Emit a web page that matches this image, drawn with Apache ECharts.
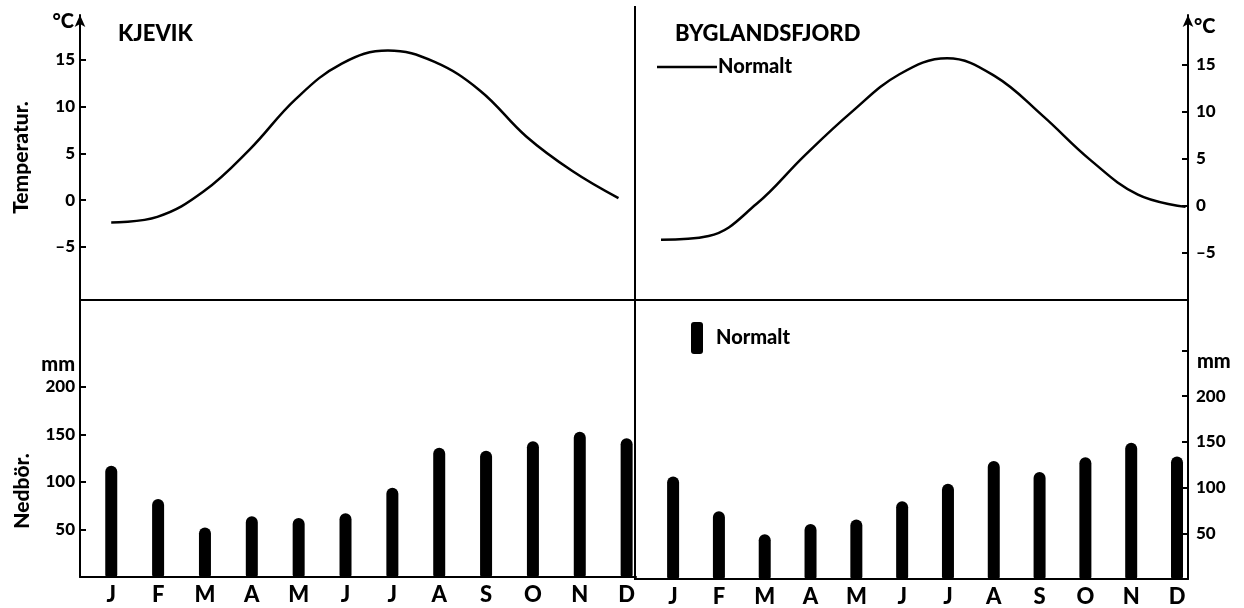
<!DOCTYPE html>
<html><head><meta charset="utf-8">
<script src="https://cdn.jsdelivr.net/npm/echarts@6/dist/echarts.min.js"></script>
<style>html,body{margin:0;padding:0;background:#fff}#c{width:1244px;height:608px}</style>
</head><body><div id="c"></div>
<script>
const months = ['J','F','M','A','M','J','J','A','S','O','N','D'];
const kjevikTemp = [-2.4,-1.8,0.9,5.4,10.8,14.6,16.0,14.8,11.7,6.8,3.1,0.2];
const byglandTemp = [-3.6,-3.2,0.2,5.3,10.0,14.0,15.7,13.8,9.6,4.9,1.2,-0.1];
const kjevikPrecip = [117,82,52,64,62,67,94,136,133,143,153,146];
const byglandPrecip = [112,74,49,60,65,85,104,129,117,133,149,134];
const tempTicks = [-5,0,5,10,15];
const precipTicks = [50,100,150,200];
const precipTicksRight = [50,100,150,200,250];
const monthIdx = months.map((m,i)=>i);

const FONT = 'Lato, "DejaVu Sans", sans-serif';
const pairs = (arr)=>arr.map((v,i)=>[monthIdx[i], v]);
const tempFmt = v => v < 0 ? '\u2013' + Math.abs(v) : String(v);

const chart = echarts.init(document.getElementById('c'), null, {renderer:'canvas'});

const lineAxis = {show:true, onZero:false, lineStyle:{color:'#000', width:2}};
const hiddenX = (min,max,idx)=>({type:'value', gridIndex:idx, min, max,
  axisLine:lineAxis, axisTick:{show:false}, axisLabel:{show:false}, splitLine:{show:false}});
const monthX = (min,max,idx)=>({type:'value', gridIndex:idx, min, max,
  axisLine:lineAxis, axisTick:{show:false}, splitLine:{show:false},
  axisLabel:{customValues:monthIdx, formatter:v=>months[Math.round(v)]||'', color:'#000',
    fontFamily:FONT, fontWeight:900, fontSize:22, margin:7}});
const yLine = (arrow)=>({show:true, onZero:false, symbol:arrow?['none','arrow']:'none', symbolSize:[8,12],
  lineStyle:{color:'#000', width:2}});

chart.setOption({
  backgroundColor:'#fff',
  animation:false,
  title:[
    {text:'KJEVIK', left:113, top:18, textStyle:{fontFamily:FONT, fontWeight:900, fontSize:22, color:'#000'}},
    {text:'BYGLANDSFJORD', left:670, top:18, textStyle:{fontFamily:FONT, fontWeight:900, fontSize:22, color:'#000'}}
  ],
  legend:[
    {data:['Temperatur, normalt'], left:652, top:52, icon:'rect', itemWidth:60, itemHeight:2.5, itemGap:0,
      formatter:()=>'Normalt', selectedMode:false,
      textStyle:{fontFamily:FONT, fontWeight:900, fontSize:20, color:'#000', padding:[0,0,0,-4]}},
    {data:['Nedbör, normalt'], left:686, top:317, icon:'roundRect', itemWidth:12, itemHeight:32,
      formatter:()=>'Normalt', selectedMode:false,
      textStyle:{fontFamily:FONT, fontWeight:900, fontSize:20, color:'#000', padding:[0,0,0,8]}}
  ],
  grid:[
    {left:80, right:608, top:15, bottom:308},
    {left:636, right:56, top:15, bottom:308},
    {left:80, right:608, top:300, bottom:31},
    {left:636, right:56, top:300, bottom:27}
  ],
  xAxis:[
    hiddenX(-0.677, 11.38, 0),
    hiddenX(-0.524, 11.05, 1),
    monthX(-0.667, 11.2, 2),
    monthX(-0.81, 11.24, 3)
  ],
  yAxis:[
    {type:'value', gridIndex:0, min:-10.7, max:19.8, position:'left',
      axisLine:yLine(true),
      axisTick:{show:true, inside:true, length:6, customValues:tempTicks, lineStyle:{color:'#000', width:2}},
      axisLabel:{customValues:tempTicks, formatter:tempFmt, color:'#000', fontFamily:FONT, fontWeight:900, fontSize:17, margin:5},
      splitLine:{show:false},
      name:'Temperatur.', nameLocation:'middle', nameRotate:90, nameGap:48,
      nameTextStyle:{fontFamily:FONT, fontWeight:900, fontSize:21, color:'#000'}},
    {type:'value', gridIndex:1, min:-10.0, max:20.3, position:'right',
      axisLine:yLine(true),
      axisTick:{show:true, inside:true, length:6, customValues:tempTicks, lineStyle:{color:'#000', width:2}},
      axisLabel:{customValues:tempTicks, formatter:tempFmt, color:'#000', fontFamily:FONT, fontWeight:900, fontSize:17, margin:8},
      splitLine:{show:false}},
    {type:'value', gridIndex:2, min:0, max:291.6, position:'left',
      axisLine:yLine(false),
      axisTick:{show:true, inside:true, length:6, customValues:precipTicks, lineStyle:{color:'#000', width:2}},
      axisLabel:{customValues:precipTicks, color:'#000', fontFamily:FONT, fontWeight:900, fontSize:17, margin:5},
      splitLine:{show:false}},
    {type:'value', gridIndex:3, min:0, max:305, position:'right',
      axisLine:yLine(false),
      axisTick:{show:true, inside:true, length:6, customValues:precipTicksRight, lineStyle:{color:'#000', width:2}},
      axisLabel:{customValues:precipTicks, color:'#000', fontFamily:FONT, fontWeight:900, fontSize:17, margin:8},
      splitLine:{show:false}}
  ],
  series:[
    {name:'Temperatur, normalt', type:'line', xAxisIndex:0, yAxisIndex:0, data:pairs(kjevikTemp),
      smooth:0.4, symbol:'none', lineStyle:{color:'#000', width:2.5}, itemStyle:{color:'#000'}},
    {name:'Temperatur, normalt', type:'line', xAxisIndex:1, yAxisIndex:1, data:pairs(byglandTemp),
      smooth:0.4, symbol:'none', lineStyle:{color:'#000', width:2.5}, itemStyle:{color:'#000'}},
    {name:'Nedbör, normalt', type:'bar', xAxisIndex:2, yAxisIndex:2, data:pairs(kjevikPrecip),
      barWidth:12, itemStyle:{color:'#000', borderRadius:[6,6,2,2]}},
    {name:'Nedbör, normalt', type:'bar', xAxisIndex:3, yAxisIndex:3, data:pairs(byglandPrecip),
      barWidth:12, itemStyle:{color:'#000', borderRadius:[6,6,2,2]}}
  ],
  graphic:[
    {type:'line', shape:{x1:635, y1:6, x2:635, y2:580}, style:{stroke:'#000', lineWidth:2}, z:10},
    {type:'text', x:74, y:22, style:{text:'°C', align:'right', verticalAlign:'middle', fill:'#000', font:'900 20px '+FONT}},
    {type:'text', x:1194, y:27, style:{text:'°C', align:'left', verticalAlign:'middle', fill:'#000', font:'900 20px '+FONT}},
    {type:'text', x:75, y:365, style:{text:'mm', align:'right', verticalAlign:'middle', fill:'#000', font:'900 20px '+FONT}},
    {type:'text', x:1197, y:362, style:{text:'mm', align:'left', verticalAlign:'middle', fill:'#000', font:'900 20px '+FONT}},
    {type:'text', x:22, y:491, rotation:Math.PI/2, style:{text:'Nedbör.', align:'center', verticalAlign:'middle', fill:'#000', font:'900 21px '+FONT}}
  ]
});
</script></body></html>
